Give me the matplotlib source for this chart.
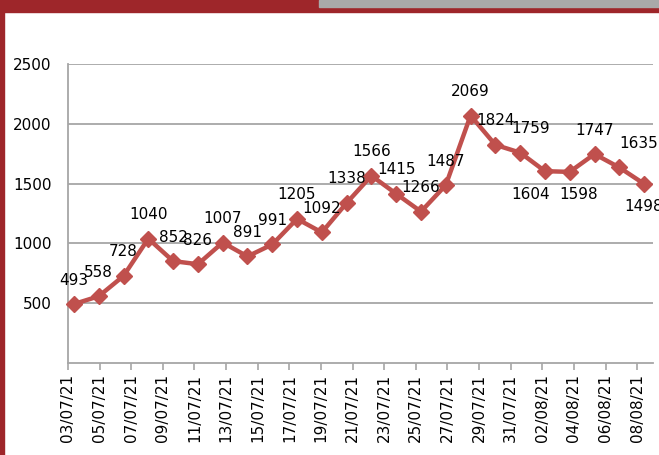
import matplotlib
matplotlib.use("Agg")
import matplotlib.pyplot as plt
from matplotlib.patches import Rectangle

# daily values (24 reported points)
values = [493, 558, 728, 1040, 852, 826, 1007, 891, 991, 1205, 1092, 1338,
          1566, 1415, 1266, 1487, 2069, 1824, 1759, 1604, 1598, 1747, 1635, 1498]
# labels drawn under the point instead of above
below = {1604, 1598, 1498}
# labels nudged sideways (pixels) as in the original chart
nudge = {1759: 10, 1604: -14, 1598: 9, 1635: 19}

date_labels = ["03/07/21", "05/07/21", "07/07/21", "09/07/21", "11/07/21",
               "13/07/21", "15/07/21", "17/07/21", "19/07/21", "21/07/21",
               "23/07/21", "25/07/21", "27/07/21", "29/07/21", "31/07/21",
               "02/08/21", "04/08/21", "06/08/21", "08/08/21"]
yticks = [500, 1000, 1500, 2000, 2500]

LINE = "#C0504D"
GRID = "#A6A6A6"
FRAME = "#9E262A"
FS = 11
PX = 0.72  # points per pixel at 100 dpi

fig = plt.figure(figsize=(6.59, 4.55), dpi=100)

# page frame: red border on the left and top, grey strip top-right
fig.patches.append(Rectangle((0, 0), 4 / 659, 1, transform=fig.transFigure,
                             color=FRAME, zorder=0))
fig.patches.append(Rectangle((0, 1 - 12 / 455), 1, 12 / 455,
                             transform=fig.transFigure, color=FRAME, zorder=0))
fig.patches.append(Rectangle((319 / 659, 1 - 7 / 455), 1, 7 / 455,
                             transform=fig.transFigure, color="#A9A9A9", zorder=1))

ax = fig.add_axes([68 / 659, 1 - 363 / 455, 585 / 659, 299 / 455])

# date axis (ticks every two days)
day_pos = list(range(0, 2 * len(date_labels), 2))
ax.set_xlim(0, 37)
ax.set_ylim(0, 2500)
ax.set_xticks(day_pos)
ax.set_xticklabels(date_labels, rotation=90, fontsize=FS)
ax.set_yticks(yticks)
ax.set_yticklabels([str(t) for t in yticks], fontsize=FS)
ax.tick_params(axis="x", length=5, width=1.2, color=GRID, pad=3)
ax.tick_params(axis="y", length=0, pad=12)
ax.grid(axis="y", color=GRID, linewidth=1.3)
for side in ("top", "right"):
    ax.spines[side].set_visible(False)
for side in ("left", "bottom"):
    ax.spines[side].set_color(GRID)
    ax.spines[side].set_linewidth(1.3)
ax.set_axisbelow(True)

# the series itself is drawn on its own category axis
ax2 = ax.twiny()
ax2.set_xlim(-0.24, 23.36)
ax2.set_ylim(0, 2500)
ax2.axis("off")
xs = list(range(len(values)))
ax2.plot(xs, values, color=LINE, linewidth=3.2, marker="D", markersize=8.5,
         clip_on=False, zorder=3)
for x, v in zip(xs, values):
    dy = -23 if v in below else 24
    dx = nudge.get(v, 0)
    ax2.annotate(str(v), (x, v), xytext=(dx * PX, dy * PX),
                 textcoords="offset points", ha="center", va="center",
                 fontsize=FS, annotation_clip=False)

fig.savefig("out.png", dpi=100)
plt.close(fig)
